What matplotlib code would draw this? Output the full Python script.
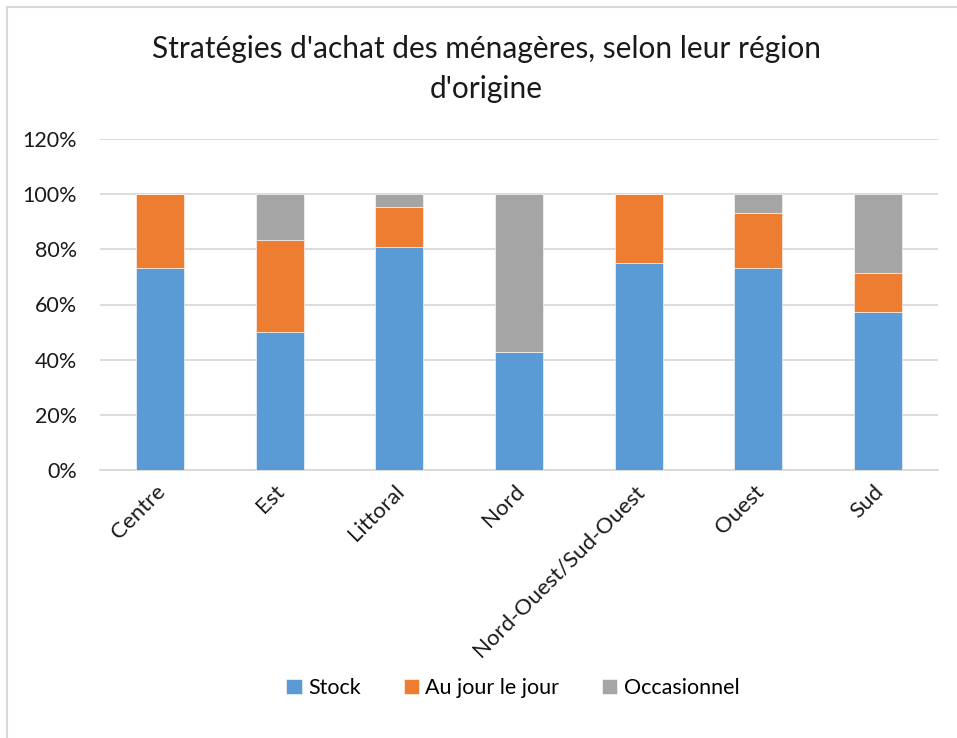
import matplotlib.pyplot as plt
from matplotlib.lines import Line2D
import matplotlib.transforms as mtransforms
import numpy as np

regions = ["Centre", "Est", "Littoral", "Nord", "Nord-Ouest/Sud-Ouest", "Ouest", "Sud"]
stock = [0.733, 0.500, 0.810, 0.429, 0.750, 0.733, 0.571]
au_jour = [0.267, 0.333, 0.143, 0.000, 0.250, 0.200, 0.143]
occasionnel = [0.000, 0.167, 0.048, 0.571, 0.000, 0.067, 0.286]
series_names = ["Stock", "Au jour le jour", "Occasionnel"]
colors = ["#5B9BD5", "#ED7D31", "#A5A5A5"]

plt.rcParams['font.family'] = ['Lato', 'DejaVu Sans']

W, H = 957, 738
fig = plt.figure(figsize=(W / 100, H / 100), dpi=100)
ax = fig.add_axes([100 / W, 1 - 470 / H, 838 / W, 331 / H])

# chart area border: only top and left edges show in the crop
fig.lines.append(Line2D([7 / W, 1], [1 - 7 / H, 1 - 7 / H], transform=fig.transFigure,
                        color="#D9D9D9", linewidth=1.5))
fig.lines.append(Line2D([7 / W, 7 / W], [0, 1 - 7 / H], transform=fig.transFigure,
                        color="#D9D9D9", linewidth=1.5))

x = np.arange(len(regions))
bottom = np.zeros(len(regions))
for vals, name, c in zip([stock, au_jour, occasionnel], series_names, colors):
    ax.bar(x, vals, width=0.4, bottom=bottom, color=c, label=name,
           edgecolor="white", linewidth=0.4, zorder=3)
    bottom += np.array(vals)

ax.set_xlim(-0.5, len(regions) - 0.5)
ax.set_ylim(0, 1.2)
yt = np.arange(0, 1.21, 0.2)
ax.set_yticks(yt)
ax.set_yticklabels([f"{int(round(v * 100))}%" for v in yt])
ax.yaxis.grid(True, color="#D9D9D9", linewidth=1.3, zorder=0)
ax.tick_params(axis='y', length=0, pad=16.5, labelsize=15.5, labelcolor="#1a1a1a")
ax.tick_params(axis='x', length=0, pad=8, labelsize=16, labelcolor="#1a1a1a")
ax.set_xticks(x)
ax.set_xticklabels(regions, rotation=45, ha="right", rotation_mode="anchor")
shift = mtransforms.ScaledTranslation(-5 / 100, 0, fig.dpi_scale_trans)
for lbl in ax.get_xticklabels():
    lbl.set_transform(lbl.get_transform() + shift)
for side in ["top", "right", "left"]:
    ax.spines[side].set_visible(False)
ax.spines["bottom"].set_color("#D9D9D9")
ax.spines["bottom"].set_linewidth(1.3)

fig.text(486 / W, 1 - 69 / H, "Stratégies d'achat des ménagères, selon leur région\nd'origine",
         ha="center", va="center", fontsize=21.5, linespacing=1.5, color="#1a1a1a")
fig.legend(loc="center", bbox_to_anchor=(513 / W, 1 - 688 / H), ncol=3, frameon=False,
           fontsize=15.5, handlelength=0.7, handleheight=0.7, handletextpad=0.3,
           columnspacing=2.0)

fig.savefig("out.png", dpi=100)
